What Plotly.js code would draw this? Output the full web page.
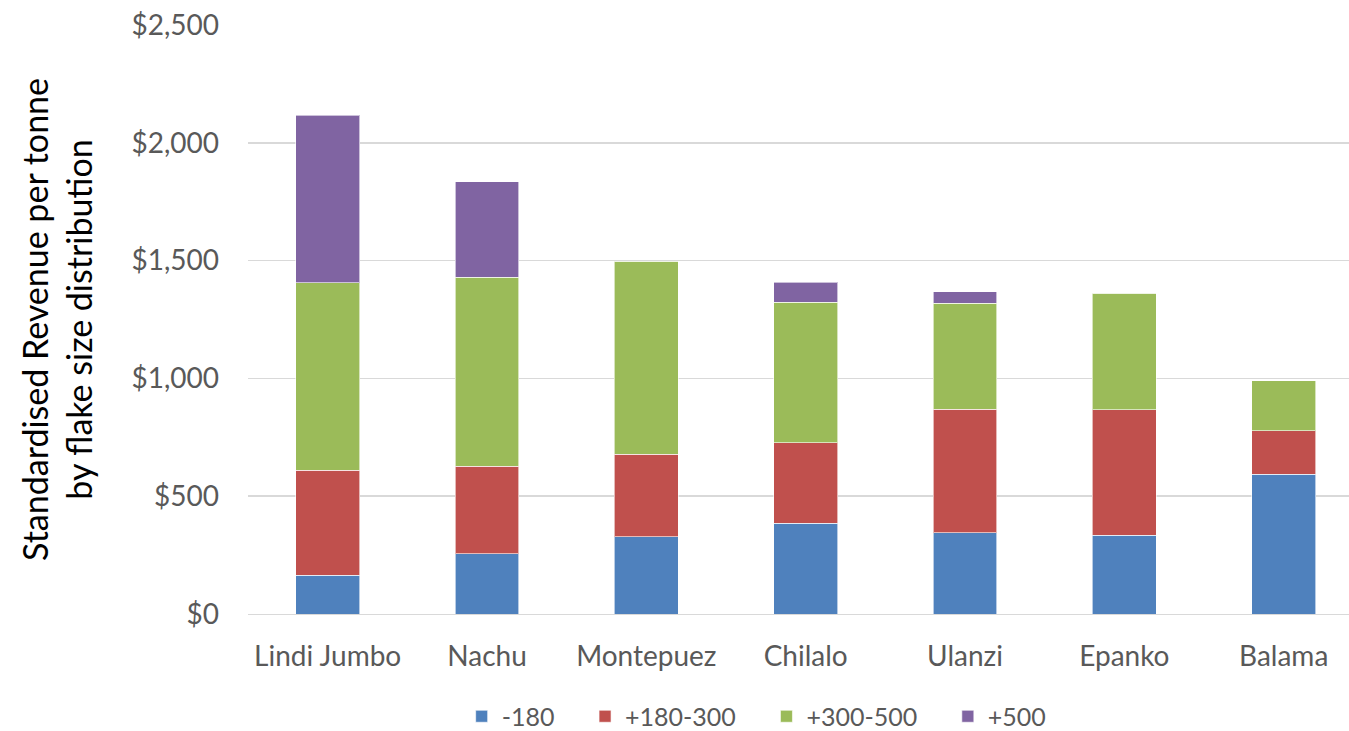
<!DOCTYPE html>
<html><head><meta charset="utf-8">
<script src="https://cdn.plot.ly/plotly-3.0.1.min.js"></script>
<style>html,body{margin:0;padding:0;background:#fff}#chart{width:1349px;height:731px}</style>
</head><body><div id="chart"></div>
<script>
const categories = ["Lindi Jumbo","Nachu","Montepuez","Chilalo","Ulanzi","Epanko","Balama"];
const seriesNames = ["-180","+180-300","+300-500","+500"];
const minus180 = [165, 255, 327, 386, 344, 335, 594];
const p180_300 = [446, 373, 352, 340, 526, 531, 183];
const p300_500 = [794, 802, 819, 598, 450, 496, 212];
const p500 = [713, 404, 0, 85, 47, 0, 0];
const colors = ["#4f81bd","#c0504d","#9bbb59","#8064a2"];
const values = [minus180, p180_300, p300_500, p500];
const yTicks = [0, 500, 1000, 1500, 2000, 2500];
const yTickText = ["$0","$500","$1,000","$1,500","$2,000","$2,500"];

const pad = "\u00a0\u00a0\u00a0\u00a0";
const traces = values.map((v,i)=>({
  type:"bar", name:seriesNames[i] + (i < values.length-1 ? pad : ""), x:categories, y:v,
  marker:{color:colors[i], line:{color:"rgba(255,255,255,0.6)", width:1}},
  width:0.4, hoverinfo:"x+y"
}));

const layout = {
  width:1349, height:731,
  barmode:"stack",
  margin:{l:248, r:0, t:25, b:117, autoexpand:false},
  paper_bgcolor:"#fff", plot_bgcolor:"#fff",
  font:{family:"Lato, 'Open Sans', sans-serif", color:"#595959", size:24},
  xaxis:{type:"category", range:[-0.5, 6.41], showgrid:false, zeroline:false, automargin:false,
    showline:true, linecolor:"#d9d9d9", linewidth:1, ticks:"",
    ticklabelstandoff:17, tickfont:{size:28, color:"#595959"}},
  yaxis:{range:[0,2500], tickvals:yTicks, ticktext:yTickText, showgrid:true, automargin:false,
    gridcolor:"#d9d9d9", gridwidth:1.5, zeroline:false, showline:false, ticks:"",
    ticklabelstandoff:28, tickfont:{size:28, color:"#595959"},
    title:{text:"Standardised Revenue per tonne<br>by flake size distribution",
      font:{size:34, color:"#000"}, standoff:28}},
  legend:{orientation:"h", x:0.462, xanchor:"center", xref:"paper", y:-0.135, yanchor:"top",
    font:{size:25, color:"#595959"}, traceorder:"normal", itemwidth:30},
  showlegend:true
};
Plotly.newPlot("chart", traces, layout, {displayModeBar:false, staticPlot:true});
</script></body></html>
